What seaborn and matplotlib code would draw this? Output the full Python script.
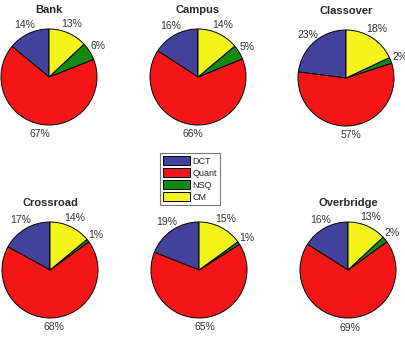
import matplotlib
matplotlib.use("Agg")
import matplotlib.pyplot as plt
import seaborn as sns

# pie data, order: DCT, Quant, NSQ, CM (counter-clockwise from top)
parts = ["DCT", "Quant", "NSQ", "CM"]
# the lower middle title is hidden under the legend in the original
scenes = ["Bank", "Campus", "Classover", "Crossroad", None, "Overbridge"]
bank = [14, 67, 6, 13]
campus = [16, 66, 5, 14]
classover = [23, 57, 2, 18]
crossroad = [17, 68, 1, 14]
middle = [19, 65, 1, 15]
overbridge = [16, 69, 2, 13]
values = [bank, campus, classover, crossroad, middle, overbridge]

sns.set_style("white")
plt.rcParams["font.family"] = ["Liberation Sans", "DejaVu Sans"]
colors = sns.color_palette(["#42429c", "#f41616", "#148a14", "#f4f41c"])

fig = plt.figure(figsize=(4.05, 3.42), dpi=100)
W, H = 405, 342
centers = [(49, 77), (198, 77), (346, 78), (50, 270), (199, 270), (348, 270)]

wedges = None
for name, vals, (cx, cy) in zip(scenes, values, centers):
    ax = fig.add_axes([(cx - 60) / W, (H - cy - 60) / H, 120 / W, 120 / H])
    w, texts = ax.pie(vals, labels=[f"{v}%" for v in vals], colors=colors,
                      startangle=90, counterclock=True, labeldistance=1.2,
                      wedgeprops=dict(edgecolor="black", linewidth=0.7),
                      textprops=dict(fontsize=7.5, color="#333333"))
    for t in texts:
        t.set_ha("center")
        t.set_va("center")
    if wedges is None:
        wedges = w
    ax.set_xlim(-1.25, 1.25)
    ax.set_ylim(-1.25, 1.25)
    ax.set_aspect("equal")
    ax.axis("off")
    if name:
        ax.text(0, 1.39, name, ha="center", va="center", fontsize=8,
                fontweight="bold", clip_on=False)

leg = fig.legend(wedges, parts, loc="center", bbox_to_anchor=(190 / W, 1 - 179 / H),
                 fontsize=6.5, frameon=True, fancybox=False, handlelength=3.0,
                 handleheight=1.1, borderpad=0.35, labelspacing=0.3,
                 handletextpad=0.25, borderaxespad=0)
leg.get_frame().set_edgecolor("#555555")
leg.get_frame().set_linewidth(0.8)

fig.savefig("out.png", dpi=100)
